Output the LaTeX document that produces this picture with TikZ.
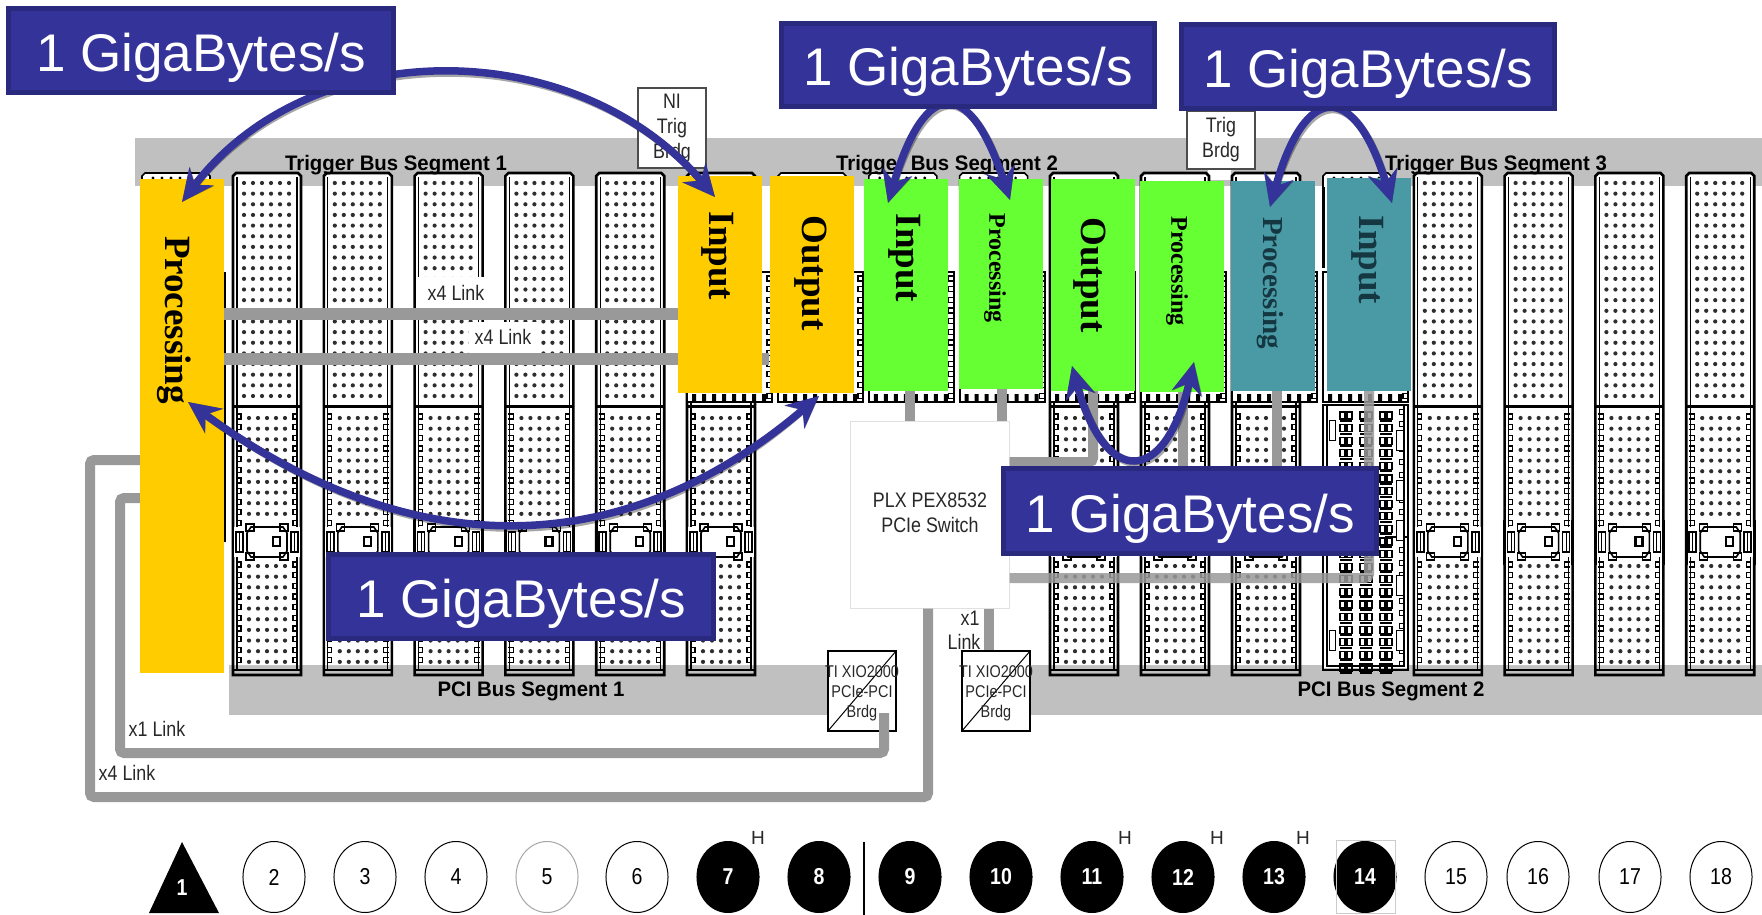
\documentclass[tikz,border=0pt]{standalone}
\usepackage{fontspec}
\setmainfont{Liberation Sans}
\newfontfamily\timesface{Liberation Serif}
\usetikzlibrary{arrows.meta,shapes.geometric}

\tikzset{
  busbar/.style={fill=busgray},
  buslabel/.style={font=\fontsize{21}{23}\selectfont\bfseries,inner sep=0pt,xscale=.97,transform shape},
  linkbar/.style={draw=linkgray,line width=10pt,line cap=butt,rounded corners=4pt},
  cardbox/.style={draw=none,inner sep=0pt,minimum width=84pt},
  cardtext/.style={rotate=-90,inner sep=0pt,font=\fontsize{37}{40}\timesface\bfseries\selectfont},
  smalltext/.style={rotate=-90,inner sep=0pt,font=\fontsize{24}{26}\timesface\bfseries\selectfont},
  midtext/.style={rotate=-90,inner sep=0pt,text=tealtext,font=\fontsize{29}{32}\timesface\bfseries\selectfont},
  ratebox/.style={draw=rateedge,line width=5pt,fill=rateblue,text=white,inner sep=0pt,
    text height=46pt,text depth=4pt,font=\fontsize{53}{56}\selectfont},
  thintext/.style={inner sep=0pt,align=center,xscale=.85,transform shape,
    font=\fontsize{21}{25}\selectfont,text=textgray},
  bridgetext/.style={thintext,font=\fontsize{17}{20}\selectfont},
  whitetag/.style={fill=white,inner sep=0pt},
  bridgebox/.style={draw=black,line width=1.2pt,fill=white,inner sep=0pt},
  rateline/.style={draw=rateblue,line width=7.5pt,
    {Stealth[length=32pt,width=30pt,fill=rateblue]}-{Stealth[length=32pt,width=30pt,fill=rateblue]}},
  rateshade/.style={draw=black,line width=7.5pt,opacity=.35,xshift=2.5pt,yshift=-3pt,
    {Stealth[length=32pt,width=30pt]}-{Stealth[length=32pt,width=30pt]}},
  slotcircle/.style={ellipse,draw=black,line width=1pt,minimum width=73pt,minimum height=71pt,inner sep=0pt,
    xscale=.85,transform shape,font=\fontsize{23}{24}\selectfont},
  slotblack/.style={slotcircle,fill=black,text=white,font=\fontsize{23}{24}\selectfont\bfseries},
  hotmark/.style={inner sep=0pt,font=\fontsize{19}{20}\selectfont,text=textgray}
}

\begin{document}
\begin{tikzpicture}[x=1pt,y=-1pt,line join=miter]
\definecolor{busgray}{RGB}{192,192,192}
\definecolor{linkgray}{RGB}{153,153,153}
\definecolor{cardyellow}{RGB}{255,204,0}
\definecolor{cardgreen}{RGB}{102,255,51}
\definecolor{cardteal}{RGB}{74,154,165}
\definecolor{tealtext}{RGB}{20,55,65}
\definecolor{rateblue}{RGB}{51,51,153}
\definecolor{rateedge}{RGB}{41,41,125}
\definecolor{textgray}{RGB}{40,40,40}

\newcommand{\slotcap}{
  \fill[white] (0,176) -- (3,173) -- (65,173) -- (68,176) -- (68,190) -- (0,190) -- cycle;
  \draw[black, line width=1.6pt] (0,190) -- (0,176) -- (3,173) -- (65,173) -- (68,176) -- (68,190);
  \fill[black] foreach \col in {0,...,5} { ({11+9*\col},178) circle (1.6) };
}

\newcommand{\slotdots}[5]{
  \fill[black!82] foreach \row in {0,...,#3} { foreach \col in {0,...,#5} {
    ({#4+9*\col},{#1+#2*\row}) circle (2.1) } };
}

\newcommand{\slotcomb}[3]{
  \draw[black, line width=1.2pt] foreach \row in {0,...,#3} {
    (3,{#1+#2*\row}) -- (8,{#1+#2*\row}) -- (8,{#1+#2*\row+5}) -- (3,{#1+#2*\row+5})
    (65,{#1+#2*\row}) -- (60,{#1+#2*\row}) -- (60,{#1+#2*\row+5}) -- (65,{#1+#2*\row+5}) };
}

\newcommand{\slotlatch}{
  \fill[white] (0,527) rectangle (68,557);
  \draw[black, line width=2.6pt] (0,520) -- (0,565) (68,520) -- (68,565);
  \draw[black, line width=1.6pt] (18,527) -- (50,527) -- (54,533) -- (54,551) -- (50,557) -- (18,557) -- (14,551) -- (14,533) -- cycle;
  \draw[black, line width=1.2pt] (13,524) rectangle (21,531) (47,524) rectangle (55,531)
    (13,553) rectangle (21,560) (47,553) rectangle (55,560);
  \draw[black, line width=2.2pt] (40,537) rectangle (47,546);
  \draw[black, line width=1.6pt] (3,532) rectangle (10,552) (58,532) rectangle (65,552);
  \draw[black, line width=1pt] (6.5,532) -- (6.5,552) (61.5,532) -- (61.5,552);
}

\newcommand{\slotfull}{
  \fill[white] (0,176) -- (3,173) -- (65,173) -- (68,176) -- (68,665) -- (0,665) -- cycle;
  \draw[black, line width=2.6pt] (0,675) -- (0,176) -- (3,173) -- (65,173) -- (68,176) -- (68,675) -- cycle;
  \draw[black, line width=1.2pt] (4,177) -- (4,405) (64,177) -- (64,405);
  \draw[black, line width=1.2pt] (4,408) -- (4,670) (64,408) -- (64,670) (0,670) -- (68,670);
  \draw[black, line width=3pt] (0,406) -- (68,406);
  \slotdots{183}{10.65}{20}{11}{5}
  \slotdots{418}{10.65}{9}{16}{4}
  \slotdots{566}{10.65}{9}{16}{4}
  \slotcomb{414}{10.65}{10}
  \slotcomb{562}{10.65}{9}
  \slotlatch
}

\newcommand{\slotbase}{
  \fill[white] (0,272) rectangle (85,402);
  \draw[black, line width=2pt] (0,272) rectangle (85,402);
  \draw[black, line width=1.2pt] foreach \row in {0,...,11} {
    (85,{276+10.65*\row}) -- (80,{276+10.65*\row}) -- (80,{281+10.65*\row}) -- (85,{281+10.65*\row}) };
  \fill[black] foreach \col in {0,...,7} { ({5+10*\col},394) rectangle ({9+10*\col},402) };
}

% trigger and pci buses
\useasboundingbox (0,0) rectangle (1762,915);
\fill[busbar] (135,138) rectangle (1762,186);
\fill[busbar] (229,665) rectangle (828,715);
\fill[busbar] (1023,665) rectangle (1762,715);
\fill[white] (1208,168) rectangle (1231,180);

% slots
\foreach \slotx in {233,323.8,414.6,505.4,596.2,687,1050,1141,1232,1413.8,1504.6,1595.4,1686.2} {
  \begin{scope}[shift={(\slotx,0)}]
    \slotfull
  \end{scope}
}
\foreach \slotx in {142,778,868.8,959.6,1323} {
  \begin{scope}[shift={(\slotx,0)}]
    \slotcap
  \end{scope}
}
\foreach \slotx in {687,778,868.8,959.6,1050,1141,1232,1323} {
  \begin{scope}[shift={(\slotx,0)}]
    \slotbase
  \end{scope}
}
\draw[rateblue, line width=1pt] (140,272) -- (140,542);
\draw[black, line width=2.4pt] (225,272) -- (225,542);
\draw[black, line width=3pt] (1323,187) -- (1323,268);

% slot fourteen
\begin{scope}[shift={(1323,0)}]
  \fill[white] (0,403) rectangle (85,668);
  \draw[black, line width=2.6pt] (0,405) -- (0,670) -- (85,670) -- (85,405) -- cycle;
  \draw[black, line width=1.2pt] (4,405) -- (4,666) -- (81,666) -- (81,405) (62,537) -- (85,537);
  \foreach \row in {0,...,20} {
    \foreach \colx in {17,37,57} {
      \draw[black, line width=1.2pt] (\colx,{412+12.6*\row}) rectangle ({\colx+12},{419+12.6*\row});
      \fill[black] ({\colx+4},{412+12.6*\row}) rectangle ({\colx+8},{419+12.6*\row});
      \fill[black] (\colx,{420+12.6*\row}) rectangle ({\colx+12},{422+12.6*\row});
    }
    \draw[black, line width=1pt] (81,{409+12.6*\row}) -- (76,{409+12.6*\row}) -- (76,{414+12.6*\row}) -- (81,{414+12.6*\row});
  }
  \foreach \taby in {430,480,520,575,630} {
    \fill[white] (73,\taby) rectangle (80,{\taby+20});
    \draw[black, line width=1pt] (73,\taby) rectangle (80,{\taby+20});
  }
  \draw[black, line width=1pt] (6,420) rectangle (12,440) (6,630) rectangle (12,650);
\end{scope}

\node (trigA) [buslabel] at (396,165) {Trigger Bus Segment 1};
\node (trigB) [buslabel] at (947,165) {Trigger Bus Segment 2};
\node (trigC) [buslabel] at (1496,165) {Trigger Bus Segment 3};
\node (pciA) [buslabel] at (531,691) {PCI Bus Segment 1};
\node (pciB) [buslabel] at (1391,691) {PCI Bus Segment 2};

% cards
\node (cardProc) [cardbox, fill=cardyellow, minimum height=494pt] at (182,426) {};
\node (cardIn) [cardbox, fill=cardyellow, minimum height=217pt] at (720,284.5) {};
\node (cardOut) [cardbox, fill=cardyellow, minimum height=217pt] at (811.5,284.5) {};
\node (cardInG) [cardbox, fill=cardgreen, minimum height=212pt] at (906,285) {};
\node (cardProcG) [cardbox, fill=cardgreen, minimum height=210pt] at (1001,284) {};
\node (cardOutG) [cardbox, fill=cardgreen, minimum height=212pt] at (1093,285) {};
\node (cardProcH) [cardbox, fill=cardgreen, minimum height=211pt] at (1182,286.5) {};
\node (cardProcT) [cardbox, fill=cardteal, minimum height=210pt] at (1272.5,286) {};
\node (cardInT) [cardbox, fill=cardteal, minimum height=213pt] at (1368.5,284.5) {};

% links between the cards
\draw[linkbar, line width=12pt] (cardProc.east |- 0,314) -- (cardIn.west |- 0,314);
\draw[linkbar, line width=12pt] (cardProc.east |- 0,359) -- (cardOut.west |- 0,359);
\fill[cardyellow] (678,300) rectangle (762,370);

\node (tagA) [whitetag, minimum width=81pt, minimum height=31pt] at (458.5,292.5) {};
\node (tagB) [whitetag, minimum width=70pt, minimum height=31pt] at (504,337.5) {};
\node (linkA) [thintext] at (456,293) {x4 Link};
\node (linkB) [thintext] at (503,337) {x4 Link};

\node (switch) [draw=black!12, line width=1pt, fill=white, minimum width=159pt, minimum height=187pt,
  inner sep=0pt] at (929.5,514.5) {};
\node (switchtxt) [thintext] at (930,513) {PLX PEX8532\\PCIe Switch};

\coordinate (feedA) at (cardOutG.south -| 1093,0);
\draw[linkbar] (cardInG.south -| 910,0) -- (switch.north -| 910,0);
\draw[linkbar] (cardProcG.south -| 1002,0) -- (switch.north -| 1002,0);
\draw[linkbar] (feedA) -- (1093,462) -- (switch.east |- 0,462);
\draw[linkbar] (cardProcH.south -| 1183,0) -- (1183,467);
\draw[linkbar] (cardProcT.south -| 1277,0) -- (1277,467);
\draw[linkbar, opacity=.85] (switch.east |- 0,578) -- (1369,578) -- (cardInT.south -| 1369,0);

\node (brdgA) [bridgebox, minimum width=68pt, minimum height=80pt] at (862,691) {};
\node (brdgB) [bridgebox, minimum width=68pt, minimum height=80pt] at (996,691) {};
\draw[black, line width=1pt] (brdgA.south west) -- (brdgA.north east);
\draw[black, line width=1pt] (brdgB.south west) -- (brdgB.north east);
\node (brdgAtxt) [bridgetext] at (862,693) {TI XIO2000\\PCIe-PCI\\Brdg};
\node (brdgBtxt) [bridgetext] at (996,693) {TI XIO2000\\PCIe-PCI\\Brdg};

\draw[linkbar] (switch.south -| 928,0) -- (928,797) -- (90,797) -- (90,460) -- (cardProc.west |- 0,460);
\draw[linkbar] (884,713) -- (884,753) -- (120,753) -- (120,498) -- (cardProc.west |- 0,498);
\draw[linkbar] (switch.south -| 989,0) -- (brdgB.north -| 989,0);

\node (linkC) [thintext] at (157,729) {x1 Link};
\node (linkD) [thintext] at (127,773) {x4 Link};
\node (linkE) [thintext] at (970,618) {x1};
\node (linkF) [thintext] at (964,642) {Link};

\node (brdgC) [bridgebox, draw=black!70, minimum width=68pt, minimum height=80pt] at (672,128) {};
\node (brdgCtxt) [thintext] at (672,128) {NI\\Trig\\Brdg};
\node (brdgD) [bridgebox, draw=black!70, minimum width=68pt, minimum height=58pt] at (1221,140) {};
\node (brdgDtxt) [thintext] at (1221,140) {Trig\\Brdg};

% card texts
\node (procAtxt) [cardtext] at (174,320) {Processing};
\node (inAtxt) [cardtext] at (718,256) {Input};
\node (outAtxt) [cardtext] at (811,273) {Output};
\node (inBtxt) [cardtext] at (905,258) {Input};
\node (procBtxt) [smalltext] at (995,268) {Processing};
\node (outBtxt) [cardtext] at (1090,275) {Output};
\node (procCtxt) [smalltext] at (1177,271) {Processing};
\node (procDtxt) [midtext] at (1270,283) {Processing};
\node (inCtxt) [cardtext, text=tealtext] at (1368,260) {Input};

% rate arrows
\coordinate (tipA) at (182,202);
\coordinate (tipB) at (715,197);
\coordinate (tipC) at (888,203);
\coordinate (tipD) at (1010,200);
\coordinate (tipE) at (1270,207);
\coordinate (tipF) at (1392,203);
\coordinate (tipG) at (188,402);
\coordinate (tipH) at (819,396);
\coordinate (tipI) at (1072,366);
\coordinate (tipJ) at (1194,362);

\draw[rateshade] (tipA) .. controls (310,33) and (575,33) .. (tipB);
\draw[rateshade] (tipC) .. controls (925,77) and (970,77) .. (tipD);
\draw[rateshade] (tipE) .. controls (1305,81) and (1355,81) .. (tipF);
\draw[rateshade] (tipG) .. controls (410,564) and (622,564) .. (tipH);
\draw[rateshade] (tipI) .. controls (1105,487) and (1165,487) .. (tipJ);

\draw[rateline] (tipA) .. controls (310,33) and (575,33) .. (tipB);
\draw[rateline] (tipC) .. controls (925,77) and (970,77) .. (tipD);
\draw[rateline] (tipE) .. controls (1305,81) and (1355,81) .. (tipF);
\draw[rateline] (tipG) .. controls (410,564) and (622,564) .. (tipH);
\draw[rateline] (tipI) .. controls (1105,487) and (1165,487) .. (tipJ);

% rate boxes
\node (rateA) [ratebox, minimum width=385pt, minimum height=84pt] at (201,50.5) {1 GigaBytes/s};
\node (rateB) [ratebox, minimum width=373pt, minimum height=83pt] at (968,65) {1 GigaBytes/s};
\node (rateC) [ratebox, minimum width=373pt, minimum height=84pt] at (1368,66.5) {1 GigaBytes/s};
\node (rateD) [ratebox, minimum width=385pt, minimum height=84pt] at (521,596.5) {1 GigaBytes/s};
\node (rateE) [ratebox, minimum width=373pt, minimum height=85pt] at (1190,511) {1 GigaBytes/s};

% slot numbers
\fill[black] (182,842) -- (219,913) -- (149,913) -- cycle;
\node (num1) [inner sep=0pt, text=white, xscale=.85, transform shape,
  font=\fontsize{23}{24}\selectfont\bfseries] at (182,888) {1};
\node (num2) [slotcircle] at (274,877) {2};
\node (num3) [slotcircle] at (365,877) {3};
\node (num4) [slotcircle] at (456,877) {4};
\node (num5) [slotcircle, draw=black!35] at (547,877) {5};
\node (num6) [slotcircle] at (637,877) {6};
\node (num7) [slotblack] at (728,877) {7};
\node (num8) [slotblack] at (819,877) {8};
\node (num9) [slotblack] at (910,877) {9};
\node (num10) [slotblack] at (1001,877) {10};
\node (num11) [slotblack] at (1092,877) {11};
\node (num12) [slotblack] at (1183,877) {12};
\node (num13) [slotblack] at (1274,877) {13};
\node (num14) [slotblack] at (1365,877) {14};
\node (num15) [slotcircle] at (1456,877) {15};
\node (num16) [slotcircle] at (1538,877) {16};
\node (num17) [slotcircle] at (1630,877) {17};
\node (num18) [slotcircle] at (1721,877) {18};
\draw[black!20, line width=1pt] (1336,840) rectangle (1395,913);
\draw[black, line width=2pt] (864,842) -- (864,915);
\node (hotA) [hotmark] at (758,838) {H};
\node (hotB) [hotmark] at (1125,838) {H};
\node (hotC) [hotmark] at (1217,838) {H};
\node (hotD) [hotmark] at (1303,838) {H};
\end{tikzpicture}
\end{document}
